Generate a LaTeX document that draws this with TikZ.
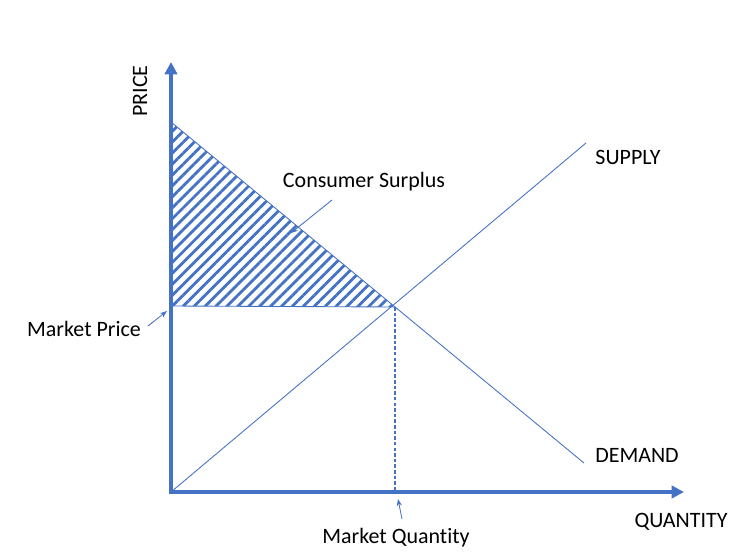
\documentclass[tikz,border=0pt]{standalone}
\usepackage{fontspec}
\setmainfont[Ligatures=NoCommon]{Carlito}
\usetikzlibrary{arrows.meta,patterns.meta}
\definecolor{office}{RGB}{68,114,196}

\begin{document}
\begin{tikzpicture}[x=0.02cm, y=-0.02cm,
    axis/.style={office, line width=2.2pt, -{Triangle[length=7pt,width=7pt]}},
    curve/.style={office, line width=0.5pt},
    pointer/.style={office, line width=0.5pt, -{Stealth[length=4pt,width=3pt]}},
    lbl/.style={font=\fontsize{12.5}{14}\selectfont, inner sep=1pt}]
    \useasboundingbox (0,0) rectangle (752,555);

    % points of the market
    \coordinate (O) at (171,492);
    \coordinate (ytop) at (171,62);
    \coordinate (xend) at (684,492);
    \coordinate (dtop) at (171,122);
    \coordinate (dend) at (584,463);
    \coordinate (send) at (586,143);
    \coordinate (eq) at (395,307);
    \coordinate (peq) at (171,306);
    \coordinate (qeq) at (395,492);

    % consumer surplus
    \fill[pattern={Lines[angle=45,distance=4.4pt,line width=1.6pt]}, pattern color=office]
        (dtop) -- (eq) -- (peq) -- cycle;
    \draw[curve] (peq) -- (eq);
    \draw[curve, line width=0.6pt, dash pattern=on 2pt off 1.2pt] (eq) -- (qeq);

    \draw[curve] (dtop) -- (dend);
    \draw[curve] (O) -- (send);

    \draw[axis] (O) -- (ytop);
    \draw[axis] ([xshift=-1pt]O) -- (xend);

    % labels
    \node[lbl, rotate=90] (price) at (140,91) {PRICE};
    \node[lbl] (qty) at (681,522) {QUANTITY};
    \node[lbl] (supply) at (628,157) {SUPPLY};
    \node[lbl] (demand) at (637,455) {DEMAND};
    \node[lbl] (cs) at (364,182) {Consumer Surplus};
    \node[lbl] (mp) at (84,329) {Market Price};
    \node[lbl] (mq) at (396,538) {Market Quantity};

    \coordinate (csfrom) at (332,200);
    \coordinate (csto) at (291,233);
    \coordinate (mpfrom) at (148,326);
    \coordinate (mpto) at (167,311);
    \coordinate (mqfrom) at (402,519);
    \coordinate (mqto) at (398,499);
    \draw[pointer] (csfrom) -- (csto);
    \draw[pointer] (mpfrom) -- (mpto);
    \draw[pointer] (mqfrom) -- (mqto);
\end{tikzpicture}
\end{document}
